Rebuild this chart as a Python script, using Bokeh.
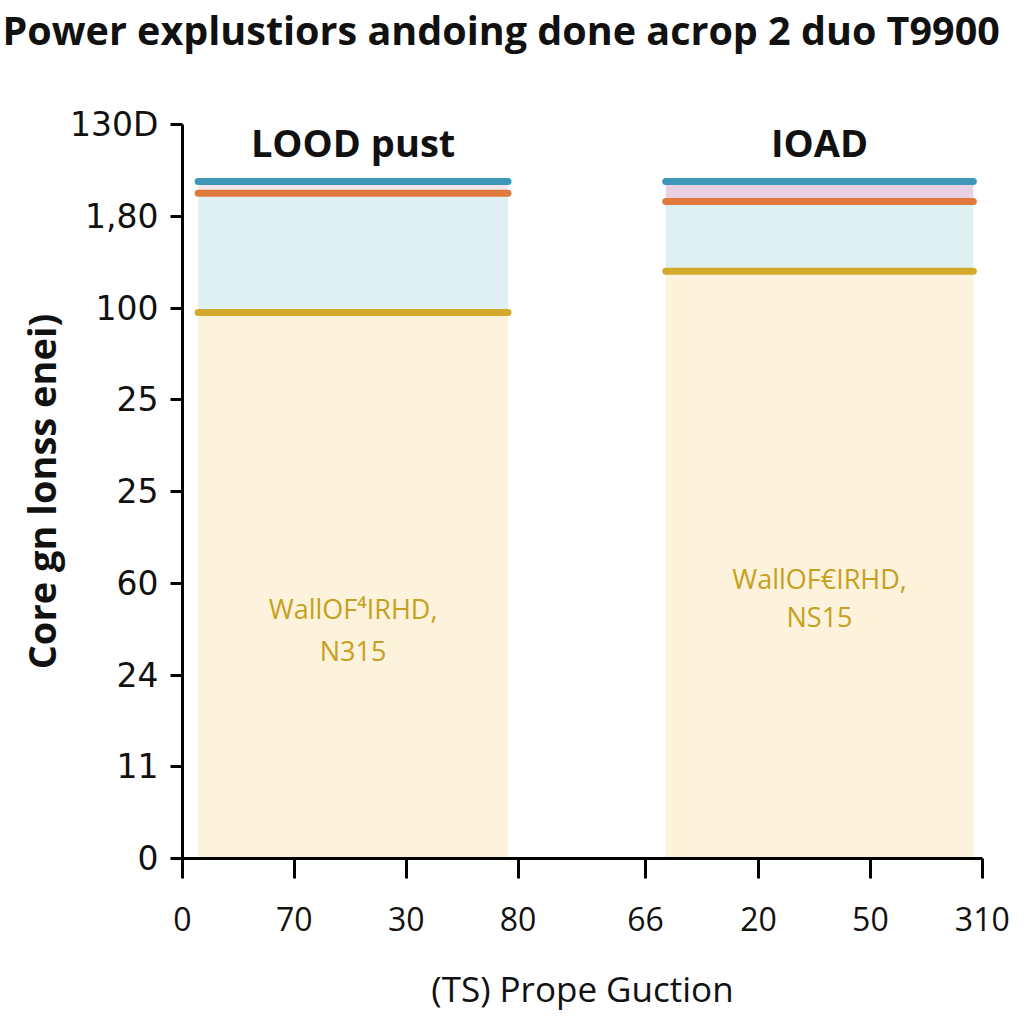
from bokeh.plotting import figure
from bokeh.models import Range1d, FixedTicker, Title
from bokeh.core.properties import value
from bokeh.embed import file_html
from bokeh.resources import INLINE

title_text = "Power explustiors andoing done acrop 2 duo T9900"
y_axis_title = "Core gn lonss enei)"
x_axis_title = "(TS) Prope Guction"

y_tick_labels = ["0", "11", "24", "60", "25", "25", "100", "1,80", "130D"]
x_tick_labels = ["0", "70", "30", "80", "66", "20", "50", "310"]
x_tick_pos = [0, 1, 2, 3, 4.14, 5.15, 6.15, 7.15]

groups = ["LOOD pust", "IOAD"]
bar_left = [0.14, 4.32]
bar_right = [2.91, 7.07]
base_level = [5.95, 6.40]   # yellow line (top of cream band)
mid_level = [7.25, 7.16]    # orange line (top of light-blue band)
top_level = [7.38, 7.38]    # blue line (top of pink band)
inner_line1 = ["WallOF\u2074IRHD,", "WallOF\u20acIRHD,"]
inner_line2 = ["N315", "NS15"]
inner_y1 = [2.73, 3.05]
inner_y2 = [2.27, 2.64]
header_y = [7.81, 7.81]

centers = [(a + b) / 2 for a, b in zip(bar_left, bar_right)]
zeros = [0 for _ in groups]

p = figure(width=1016, height=1016, output_backend="svg", toolbar_location=None,
           x_range=Range1d(0, 7.152), y_range=Range1d(0, 8.0),
           min_border_left=182, min_border_right=34, min_border_top=123,
           min_border_bottom=158)
p.outline_line_color = None
p.xgrid.visible = False
p.ygrid.visible = False
p.background_fill_color = "white"

# bands
p.quad(left=bar_left, right=bar_right, bottom=zeros, top=base_level,
       fill_color="#fdf3dd", line_color=None)
p.quad(left=bar_left, right=bar_right, bottom=base_level, top=mid_level,
       fill_color="#dff0f3", line_color=None)
p.quad(left=bar_left, right=bar_right, bottom=mid_level, top=top_level,
       fill_color=["#f4e6ea", "#e9d0e2"], line_color=None)

# level lines
p.segment(x0=bar_left, x1=bar_right, y0=base_level, y1=base_level,
          line_color="#d4aa2c", line_width=7, line_cap="round")
p.segment(x0=bar_left, x1=bar_right, y0=mid_level, y1=mid_level,
          line_color="#e07a3c", line_width=7, line_cap="round")
p.segment(x0=bar_left, x1=bar_right, y0=top_level, y1=top_level,
          line_color="#3e97b6", line_width=7, line_cap="round")

# texts
p.text(x=centers, y=header_y, text=groups, text_align="center",
       text_baseline="middle", text_font=value("Open Sans"),
       text_font_size="38px", text_font_style="bold", text_color="#111111")
p.text(x=centers, y=inner_y1, text=inner_line1, text_align="center",
       text_baseline="middle", text_font=value("Open Sans"),
       text_font_size="27px", text_color="#c6a020")
p.text(x=centers, y=inner_y2, text=inner_line2, text_align="center",
       text_baseline="middle", text_font=value("Open Sans"),
       text_font_size="27px", text_color="#c6a020")

# axes
yax = p.yaxis[0]
yax.ticker = FixedTicker(ticks=list(range(len(y_tick_labels))))
yax.major_label_overrides = {i: t for i, t in enumerate(y_tick_labels)}
yax.major_label_text_font = "DejaVu Sans"
yax.major_label_text_font_size = "33px"
yax.major_label_text_color = "#111111"
yax.major_tick_out = 12
yax.major_tick_in = 0
yax.minor_tick_out = 0
yax.minor_tick_in = 0
yax.major_label_standoff = 12
yax.axis_line_width = 3
yax.major_tick_line_width = 3
yax.axis_label = y_axis_title
yax.axis_label_text_font = "Open Sans"
yax.axis_label_text_font_size = "38px"
yax.axis_label_text_font_style = "bold"
yax.axis_label_text_color = "#111111"
yax.axis_label_standoff = 0

xax = p.xaxis[0]
xax.ticker = FixedTicker(ticks=x_tick_pos)
xax.major_label_overrides = {t: l for t, l in zip(x_tick_pos, x_tick_labels)}
xax.major_label_text_font = "Open Sans"
xax.major_label_text_font_size = "32px"
xax.major_label_text_color = "#111111"
xax.major_tick_out = 20
xax.major_tick_in = 0
xax.minor_tick_out = 0
xax.minor_tick_in = 0
xax.major_label_standoff = 28
xax.axis_line_width = 3
xax.major_tick_line_width = 3
xax.axis_label = x_axis_title
xax.axis_label_text_font = "Open Sans"
xax.axis_label_text_font_size = "35px"
xax.axis_label_text_font_style = "normal"
xax.axis_label_text_color = "#111111"
xax.axis_label_standoff = 31

# title: a blank spacer panel next to the frame, then the real title above it
p.title.text = ""
spacer = Title(text=" ", text_font="Open Sans", text_font_size="39px",
               standoff=13)
p.add_layout(spacer, "above")
main_title = Title(text=title_text, align="left", offset=-180, standoff=0,
                   text_font="Open Sans", text_font_size="39.5px",
                   text_font_style="bold", text_color="#111111")
p.add_layout(main_title, "above")

open("out.html", "w").write(file_html(p, INLINE))
